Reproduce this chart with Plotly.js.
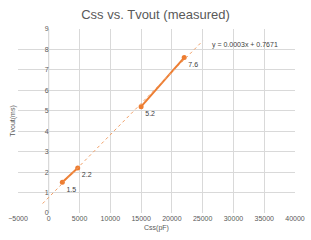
<!DOCTYPE html>
<html><head><meta charset="utf-8">
<script src="https://cdn.plot.ly/plotly-3.0.1.min.js"></script>
<style>html,body{margin:0;padding:0;background:#fff}#c{width:311px;height:240px}</style>
</head><body><div id="c"></div>
<script>
const cssPF = [2200, 4700, null, 15000, 22000];
const tvoutMs = [1.5, 2.2, null, 5.2, 7.6];
const pointLabels = ['1.5', '2.2', '', '5.2', '7.6'];
const trendX = [-1000, 25000];
const trendSlope = 0.0003060;
const trendIntercept = 0.7671;
const trendY = trendX.map(x => trendSlope * x + trendIntercept);
const eqText = 'y = 0.0003x + 0.7671';

const orange = '#ED7D31';
const gray = '#595959';
const grid = '#d9d9d9';
const fam = 'Liberation Sans, Arial, sans-serif';

const data = [
  {x: trendX, y: trendY, mode: 'lines', yaxis: 'y2', hoverinfo: 'skip',
   line: {color: '#F19F66', width: 1, dash: 'dot'}, showlegend: false},
  {x: cssPF, y: tvoutMs, mode: 'lines+markers+text', text: pointLabels, connectgaps: false,
   textposition: 'bottom right', textfont: {size: 7, color: '#404040', family: fam},
   line: {color: orange, width: 2}, marker: {color: orange, size: 5}, showlegend: false}
];
const layout = {
  width: 311, height: 240,
  margin: {l: 18, r: 16, t: 29, b: 27},
  paper_bgcolor: '#fff', plot_bgcolor: '#fff',
  font: {family: fam, color: gray},
  title: {text: 'Css vs. Tvout (measured)', font: {size: 13, color: gray, family: fam}, x: 0.5, xanchor: 'center', y: 0.94, yanchor: 'middle'},
  xaxis: {range: [-5000, 40000], dtick: 5000, tick0: -5000, tickformat: 'd', showgrid: true, gridcolor: grid, gridwidth: 1,
    zeroline: false, showline: false, ticks: '', tickfont: {size: 7, color: gray},
    title: {text: 'Css(pF)', font: {size: 7, color: gray}, standoff: 4}},
  yaxis: {range: [0, 9], dtick: 1, showgrid: true, gridcolor: grid, zeroline: false, showline: false,
    showticklabels: false, ticks: '',
    title: {text: 'Tvout(ms)', font: {size: 7, color: gray}, standoff: 0}},
  yaxis2: {range: [0, 9], dtick: 1, overlaying: 'y', anchor: 'free', position: 5000/45000, side: 'left',
    showgrid: false, zeroline: false, showline: false, ticks: '', ticklen: 0,
    tickfont: {size: 7, color: gray}},
  annotations: [{xref: 'x', yref: 'y', x: 26200, y: 8.2, text: eqText, showarrow: false,
    xanchor: 'left', yanchor: 'middle', font: {size: 7, color: '#404040', family: fam}}],
  shapes: [{type: 'line', xref: 'x', yref: 'y', x0: 0, x1: 0, y0: 0, y1: 9, line: {color: grid, width: 1}, layer: 'below'}]
};
Plotly.newPlot('c', data, layout, {staticPlot: true, displayModeBar: false});
</script></body></html>
